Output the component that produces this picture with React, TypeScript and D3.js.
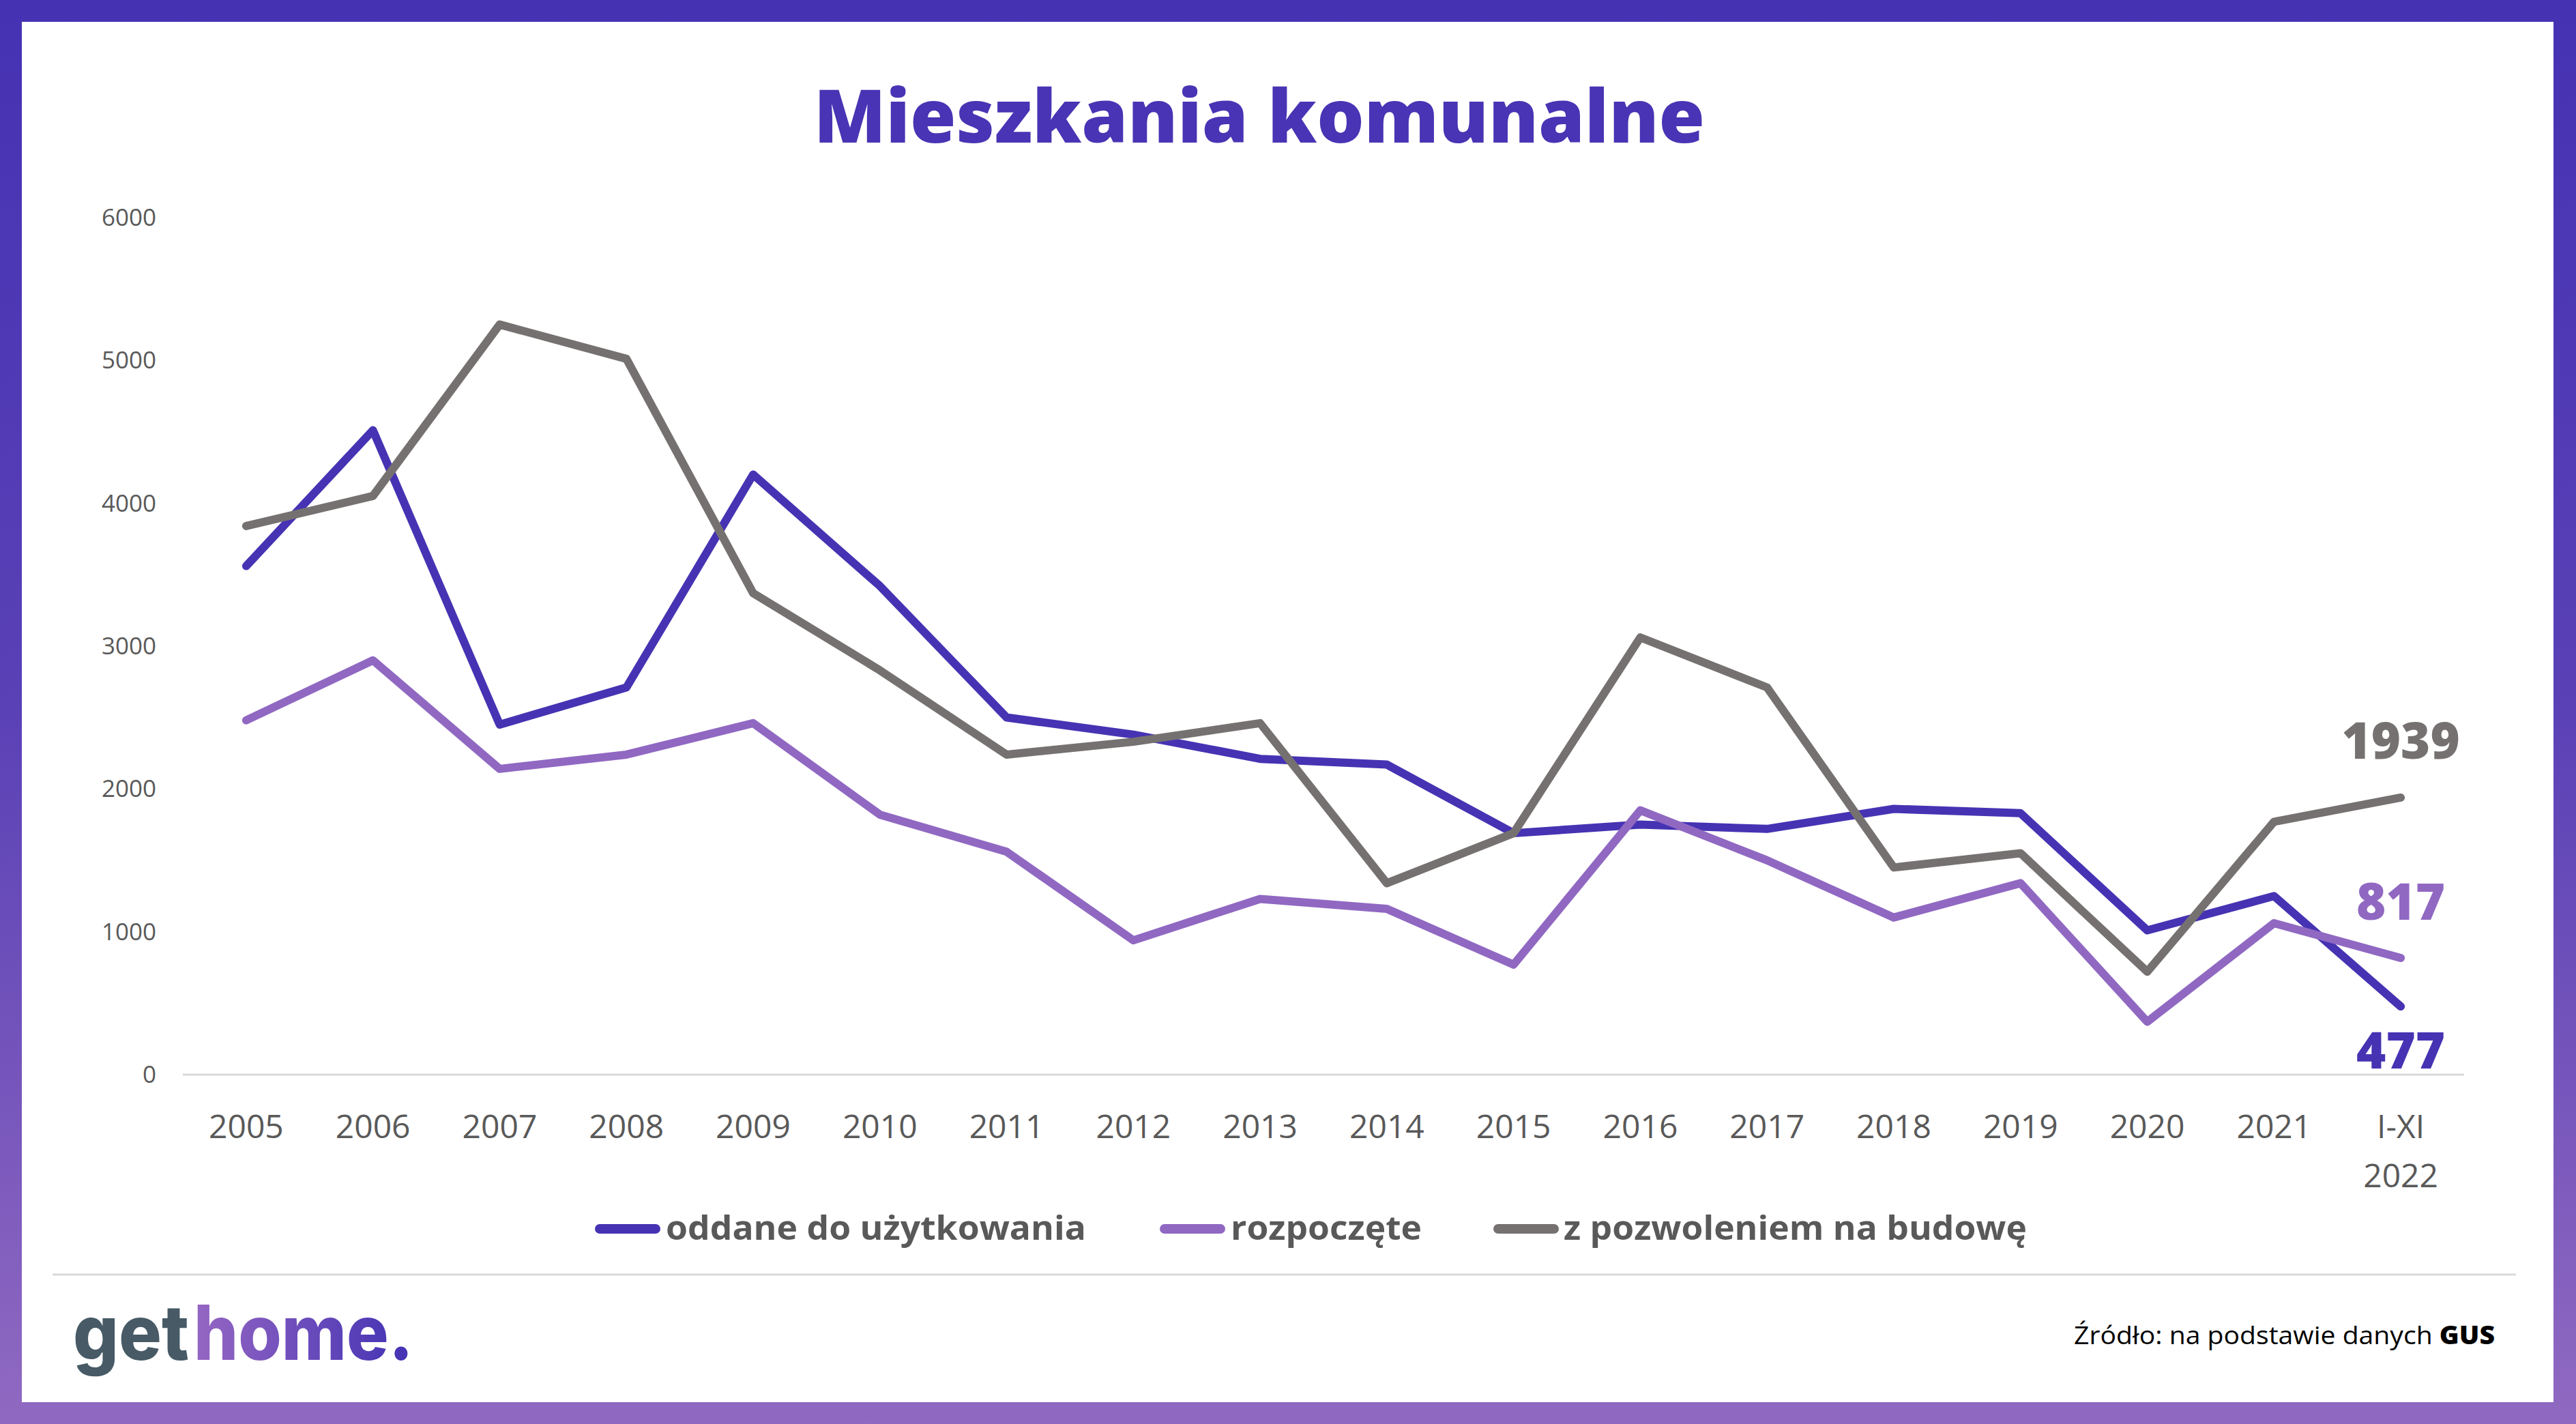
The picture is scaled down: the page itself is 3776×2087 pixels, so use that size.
import React from "react";
import * as d3 from "d3";

const categories = ["2005","2006","2007","2008","2009","2010","2011","2012","2013","2014","2015","2016","2017","2018","2019","2020","2021","I-XI 2022"];
const oddane = [3560,4510,2450,2710,4200,3420,2500,2380,2210,2170,1690,1750,1720,1860,1830,1010,1250,477];
const rozpoczete = [2480,2900,2140,2240,2460,1820,1560,940,1230,1160,770,1850,1500,1100,1340,370,1060,817];
const pozwolenia = [3840,4050,5250,5010,3370,2830,2240,2330,2460,1340,1690,3060,2710,1450,1550,720,1770,1939];
const yTicks = [0,1000,2000,3000,4000,5000,6000];
const seriesNames = ["oddane do użytkowania","rozpoczęte","z pozwoleniem na budowę"];
const colors = ["#4633B3","#9068C2","#767171"];

const W = 3776, H = 2087;
const FONT = "'Open Sans', 'DejaVu Sans', sans-serif";

export default function App() {
  const x = d3.scalePoint<string>().domain(categories).range([268, 3612]).padding(0.5);
  const y = d3.scaleLinear().domain([0, 6000]).range([1575, 318.6]);
  const line = d3.line<number>().x((_, i) => x(categories[i]) as number).y(d => y(d));
  const series = [oddane, rozpoczete, pozwolenia];
  const lastX = x(categories[categories.length - 1]) as number;
  const endLabels = [
    { v: oddane[17], yb: 1566, c: colors[0] },
    { v: rozpoczete[17], yb: 1348, c: colors[1] },
    { v: pozwolenia[17], yb: 1112, c: colors[2] },
  ];
  const legend = [
    { sx: 872, tx: 976, len: 616 },
    { sx: 1700, tx: 1804, len: 280 },
    { sx: 2189, tx: 2292, len: 679 },
  ];
  return (
    <svg width={W} height={H} style={{ position: "absolute", left: 0, top: 0 }} xmlns="http://www.w3.org/2000/svg">
      <defs>
        <linearGradient id="frame" x1="0" y1="0" x2="0" y2="1">
          <stop offset="0" stopColor="#4532B3" />
          <stop offset="0.5" stopColor="#5a41b6" />
          <stop offset="1" stopColor="#9069C1" />
        </linearGradient>
        <linearGradient id="logo" gradientUnits="userSpaceOnUse" x1="290" y1="0" x2="590" y2="0">
          <stop offset="0" stopColor="#9466C3" />
          <stop offset="1" stopColor="#4634B4" />
        </linearGradient>
      </defs>
      <rect x={0} y={0} width={W} height={H} fill="url(#frame)" />
      <rect x={32} y={32} width={W - 65} height={H - 64} fill="#ffffff" />

      <text x={1846} y={209} textAnchor="middle" fontFamily={FONT} fontWeight={800} fontSize={108} fill="#4834B4" textLength={1306} lengthAdjust="spacingAndGlyphs">Mieszkania komunalne</text>

      {yTicks.map(t => (
        <text key={t} x={229} y={y(t)} dy="0.35em" textAnchor="end" fontFamily={FONT} fontSize={35} fill="#595959">{t}</text>
      ))}
      <line x1={268} x2={3612} y1={y(0)} y2={y(0)} stroke="#d9d9d9" strokeWidth={3} />

      {categories.map(c => {
        const parts = c.split(" ");
        return (
          <text key={c} x={x(c)} y={1668} textAnchor="middle" fontFamily={FONT} fontSize={48} fill="#595959">
            {parts.map((p, i) => (
              <tspan key={i} x={x(c)} dy={i === 0 ? 0 : 72}>{p}</tspan>
            ))}
          </text>
        );
      })}

      {series.map((s, i) => (
        <path key={i} d={line(s) as string} fill="none" stroke={colors[i]} strokeWidth={12} strokeLinejoin="round" strokeLinecap="round" />
      ))}

      {endLabels.map((l, i) => (
        <text key={i} x={lastX} y={l.yb} textAnchor="middle" fontFamily={FONT} fontWeight={800} fontSize={74} fill={l.c}>{l.v}</text>
      ))}

      {legend.map((l, i) => (
        <g key={i}>
          <line x1={l.sx + 7} x2={l.sx + 89} y1={1801} y2={1801} stroke={colors[i]} strokeWidth={14} strokeLinecap="round" />
          <text x={l.tx} y={1817} fontFamily={FONT} fontWeight={700} fontSize={49} fill="#595959" textLength={l.len} lengthAdjust="spacingAndGlyphs">{seriesNames[i]}</text>
        </g>
      ))}

      <line x1={77} x2={3688} y1={1868} y2={1868} stroke="#d9d9d9" strokeWidth={3} />

      <text x={107} y={1993} fontFamily="Inter, 'Open Sans', sans-serif" fontWeight={800} fontSize={112} fill="#475A66" textLength={170} lengthAdjust="spacingAndGlyphs">get</text>
      <text x={284} y={1993} fontFamily="Inter, 'Open Sans', sans-serif" fontWeight={800} fontSize={112} fill="url(#logo)" textLength={322} lengthAdjust="spacingAndGlyphs">home.</text>

      <text x={3040} y={1970} fontFamily={FONT} fontSize={37} fill="#000000" textLength={617} lengthAdjust="spacingAndGlyphs">
        Źródło: na podstawie danych <tspan fontWeight={800}>GUS</tspan>
      </text>
    </svg>
  );
}
